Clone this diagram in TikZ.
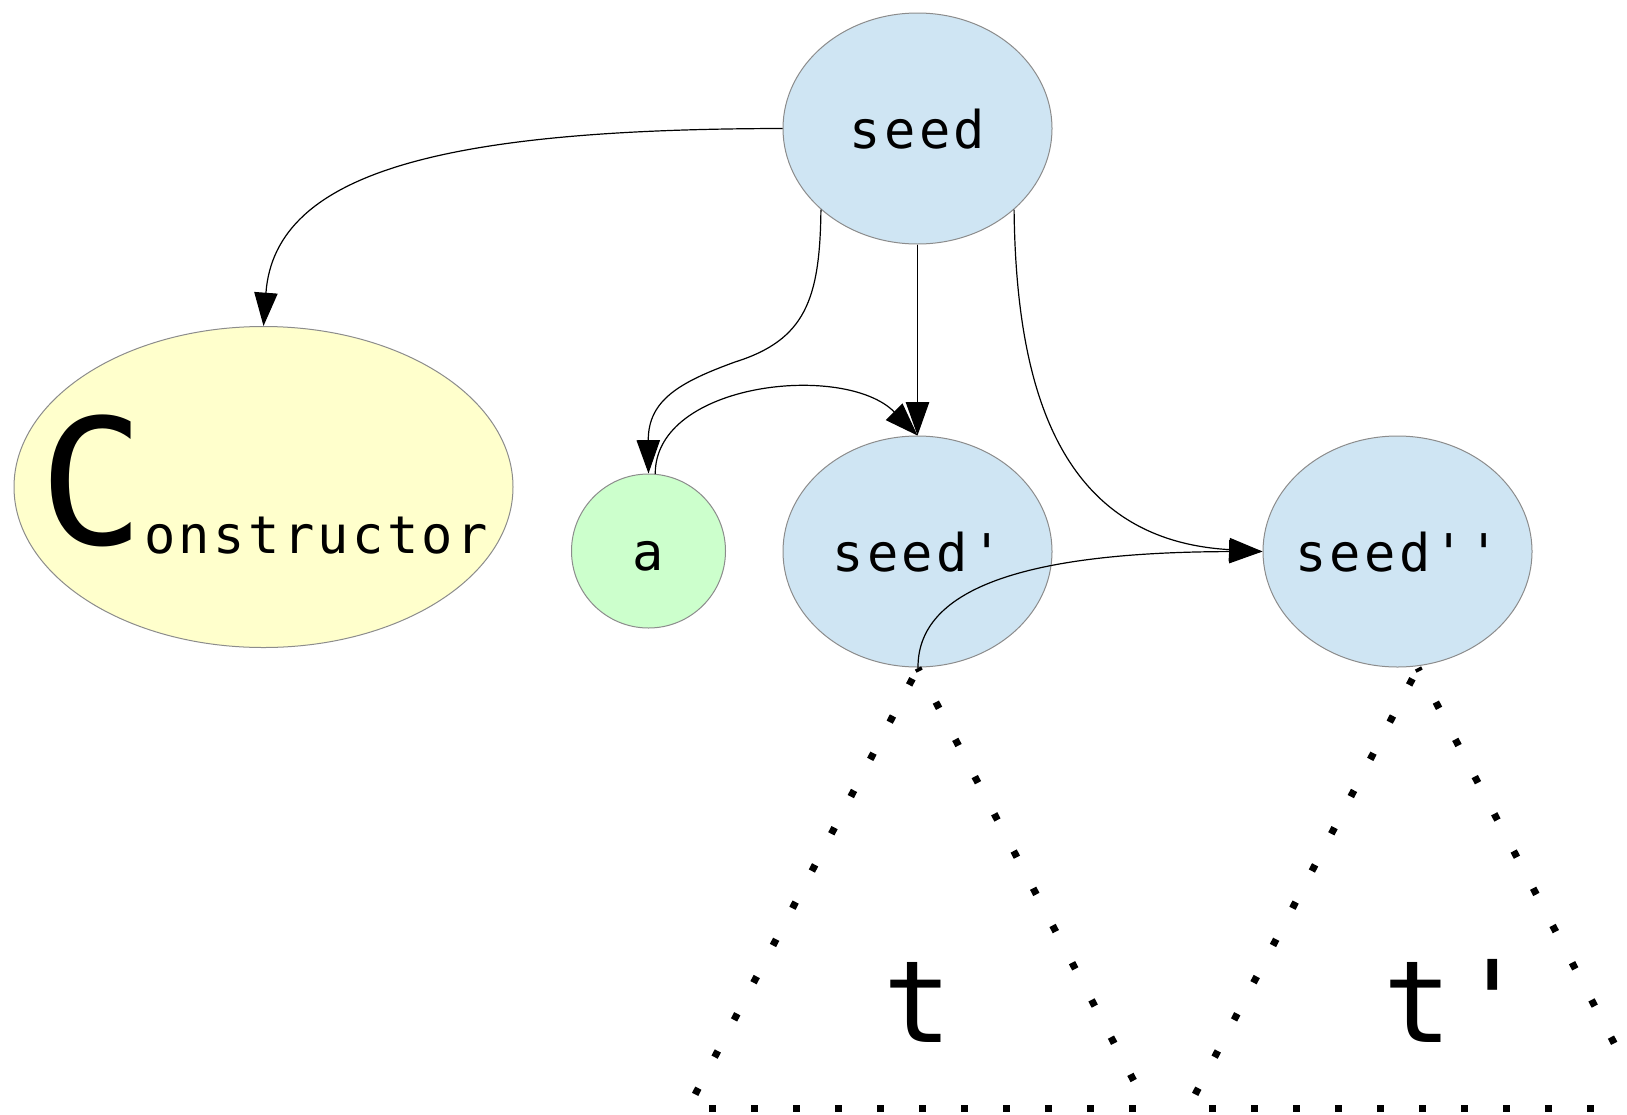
\documentclass[tikz,border=0pt]{standalone}
\usepackage{fontspec}
\usetikzlibrary{arrows.meta,shapes.geometric}
\newfontfamily\monoS[LetterSpace=6.5,Ligatures=TeXOff]{DejaVu Sans Mono}
\newfontfamily\monoP[Ligatures=TeXOff]{DejaVu Sans Mono}
\newcommand\txtS{\monoS\fontsize{39pt}{42pt}\selectfont}
\newcommand\txtC{\monoP\fontsize{131pt}{134pt}\selectfont}
\newcommand\txtT{\monoP\fontsize{85.5pt}{90pt}\selectfont}
\newcommand\ctrtxt[1]{\makebox[0pt]{#1}}
\definecolor{seedblue}{HTML}{CFE5F3}
\definecolor{consyellow}{HTML}{FFFFCC}
\definecolor{agreen}{HTML}{CCFFCC}
\definecolor{bordergray}{HTML}{8C8C8C}
\tikzset{
  blob/.style={draw=bordergray, line width=0.75pt, inner sep=0pt,
    font=\txtS, text height=29.6pt, text depth=0pt},
  seedbox/.style={blob, ellipse, fill=seedblue, minimum width=201.75pt, minimum height=173.25pt},
  consbox/.style={blob, ellipse, fill=consyellow, minimum width=374.25pt, minimum height=240.75pt,
    text height=86.5pt},
  abox/.style={blob, circle, fill=agreen, minimum size=115.5pt},
  edge/.style={draw=black, line width=0.9pt, -{Triangle[length=25pt,width=17.5pt]}},
  dotline/.style={line width=5.25pt, line cap=butt, dash pattern=on 5.25pt off 26.25pt},
  bigt/.style={inner sep=0pt, font=\txtT},
}
\begin{document}
\begin{tikzpicture}[x=0.75pt,y=-0.75pt]
\clip (0,0) rectangle (1627,1114);
\fill[white] (0,0) rectangle (1627,1114);

\node[seedbox] (seed) at (917.5,128.5) {\ctrtxt{seed}};
\node[consbox] (cons) at (263.5,487) {\ctrtxt{\txtC C\raisebox{-6.75pt}{\txtS onstructor}}};
\node[abox] (a) at (648.5,551) {\ctrtxt{a}};
\node[seedbox] (seedp) at (917.5,551.5) {\ctrtxt{seed'}};
\node[seedbox] (seedpp) at (1397.5,551.5) {\ctrtxt{seed''}};

% dotted triangles
\coordinate (A1) at (918,668);
\coordinate (L1) at (688,1108);
\coordinate (R1) at (1148,1108);
\coordinate (A2) at (1418,668);
\coordinate (L2) at (1188,1108);
\coordinate (R2) at (1648,1108);
\draw[dotline, dash phase=2.625pt] (A1) -- (R1);
\draw[dotline, dash phase=22.425pt] (A1) -- (L1);
\draw[dotline, dash phase=15.6pt] (L1) -- (R1);
\draw[dotline, dash phase=2.625pt] (A2) -- (R2);
\draw[dotline, dash phase=22.425pt] (A2) -- (L2);
\draw[dotline, dash phase=15.6pt] (L2) -- (R2);
\node[bigt, anchor=base] (tlab) at (918,1042) {t};
\node[bigt, anchor=base west] (tplab) at (1383.7,1042) {t\kern4.8pt'};

% edges
\draw[edge] (seed.west) .. controls (450,129) and (275,170) .. (cons.north);
\draw[edge] (seed.220) .. controls (820,300) and (805,340) .. (735,362)
  .. controls (680,382) and (648,400) .. (a.north);
\draw[edge] (a.85) .. controls (655,382) and (845,362) .. (seedp.north);
\draw[edge] (seed.south) -- (seedp.north);
\draw[edge] (seed.320) .. controls (1016,390) and (1060,540) .. (seedpp.west);
\draw[edge] (A1) .. controls (917,580) and (1050,552) .. (seedpp.west);
\end{tikzpicture}
\end{document}
